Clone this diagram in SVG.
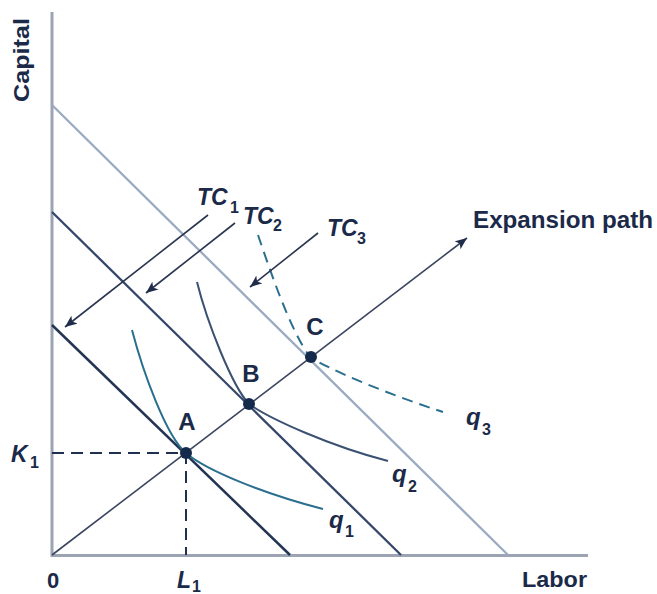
<svg xmlns="http://www.w3.org/2000/svg" width="657" height="594" viewBox="0 0 657 594">
<style>
.t{font-family:"Liberation Sans",Arial,sans-serif;font-weight:bold;fill:#1b2a48}
.i{font-style:italic}
.axis{stroke:#9ca4b3;stroke-width:3;fill:none}
.arr{stroke:#2b3550;stroke-width:1.6;fill:none;marker-end:url(#ah)}
.dash{stroke:#1f3050;stroke-width:2;stroke-dasharray:12 7;fill:none}
.dot{fill:#142a4b}
</style>
<defs>
<marker id="ah" markerUnits="userSpaceOnUse" viewBox="0 0 12 10" markerWidth="12" markerHeight="10" refX="12" refY="5" orient="auto">
<path d="M0,0 L12,5 L0,10 L3,5 z" fill="#1f2d4a"/>
</marker>
</defs>
<rect width="657" height="594" fill="#ffffff"/>
<g id="axes">
<path class="axis" d="M52,12 V555.5 H588"/>
<text class="t" x="47" y="588" font-size="22">0</text>
<text class="t" x="522" y="587" font-size="22" textLength="65" lengthAdjust="spacingAndGlyphs">Labor</text>
<text class="t" transform="translate(29,102) rotate(-90)" font-size="22" textLength="84" lengthAdjust="spacingAndGlyphs">Capital</text>
</g>
<g id="budget-lines">
<line x1="52" y1="325" x2="290" y2="555" stroke="#243553" stroke-width="2.5"/>
<line x1="52" y1="212" x2="401" y2="555" stroke="#34476a" stroke-width="2.3"/>
<line x1="52" y1="105" x2="508" y2="555" stroke="#9aaac0" stroke-width="2.3"/>
</g>
<g id="isoquants">
<path d="M132,330 C143,372 166,436 186,453 C207,471 265,494 323,509" stroke="#2b6f8f" stroke-width="2" fill="none"/>
<path d="M197,282 C207,322 232,386 249,404 C270,419 330,446 388,461" stroke="#3b5172" stroke-width="2" fill="none"/>
<path d="M258,235 C270,270 290,330 310,357 C330,370 390,395 443,412" stroke="#2b6f8f" stroke-width="2" fill="none" stroke-dasharray="11 7"/>
</g>
<g id="connectors">
<line x1="52" y1="555" x2="467" y2="238" stroke="#3d4660" stroke-width="1.6" marker-end="url(#ah)"/>
<line class="arr" x1="208" y1="215" x2="65" y2="327"/>
<line class="arr" x1="235" y1="223" x2="146" y2="293"/>
<line class="arr" x1="318" y1="233" x2="250" y2="287"/>
<path class="dash" d="M52,453 H186 V555"/>
</g>
<g id="point-A">
<circle class="dot" cx="186" cy="453" r="6"/>
<text class="t" x="187" y="430" font-size="24" text-anchor="middle">A</text>
</g>
<g id="point-B">
<circle class="dot" cx="249" cy="404" r="6"/>
<text class="t" x="251" y="382" font-size="24" text-anchor="middle">B</text>
</g>
<g id="point-C">
<circle class="dot" cx="311" cy="357" r="6"/>
<text class="t" x="315" y="335" font-size="24" text-anchor="middle">C</text>
</g>
<g id="label-TC1">
<text class="t i" x="197" y="205" font-size="23">TC</text>
<text class="t" x="230" y="213" font-size="16">1</text>
</g>
<g id="label-TC2">
<text class="t i" x="243" y="224" font-size="23">TC</text>
<text class="t" x="273" y="231" font-size="16">2</text>
</g>
<g id="label-TC3">
<text class="t i" x="327" y="236" font-size="23">TC</text>
<text class="t" x="357" y="244" font-size="16">3</text>
</g>
<g id="label-expansion">
<text class="t" x="473" y="228" font-size="24" textLength="180" lengthAdjust="spacingAndGlyphs">Expansion path</text>
</g>
<g id="label-q1">
<text class="t i" x="329" y="528" font-size="24">q</text>
<text class="t" x="345" y="537" font-size="16">1</text>
</g>
<g id="label-q2">
<text class="t i" x="392" y="482" font-size="24">q</text>
<text class="t" x="408" y="492" font-size="16">2</text>
</g>
<g id="label-q3">
<text class="t i" x="466" y="425" font-size="24">q</text>
<text class="t" x="482" y="435" font-size="16">3</text>
</g>
<g id="label-K1">
<text class="t i" x="11" y="462" font-size="23">K</text>
<text class="t" x="30" y="468" font-size="16">1</text>
</g>
<g id="label-L1">
<text class="t i" x="177" y="588" font-size="23">L</text>
<text class="t" x="192" y="592" font-size="16">1</text>
</g>
</svg>
